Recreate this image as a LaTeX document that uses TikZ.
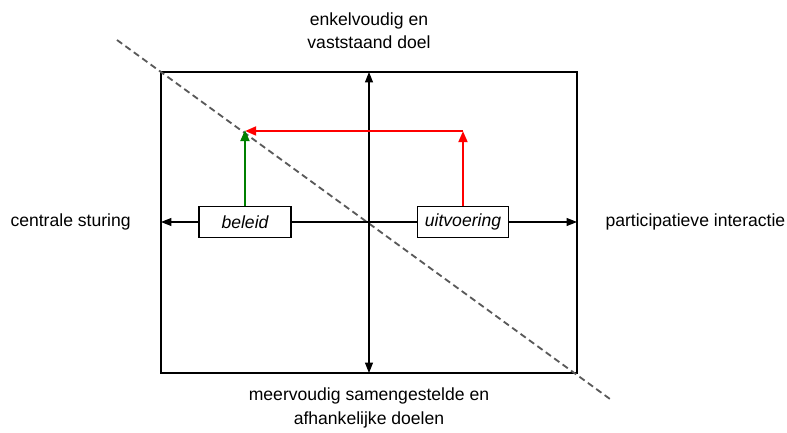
\documentclass[tikz,border=0pt]{standalone}
\usepackage{fontspec}
\setmainfont{Liberation Sans}
\usetikzlibrary{arrows.meta}
\definecolor{darkgreen}{RGB}{0,128,0}
\begin{document}
\begin{tikzpicture}[
  font=\fontsize{12.5}{16.5}\selectfont,
  tip/.style={-{Triangle[length=0.28cm,width=0.22cm]}},
  box/.style={draw,fill=white,line width=0.8pt,minimum width=2.3cm,minimum height=0.775cm,inner sep=0pt,font=\fontsize{12.5}{16.5}\selectfont\itshape},
  lbl/.style={align=center}]
\useasboundingbox (-9.225,-5.275) rectangle (10.45,5.55);

% Field
\draw[line width=0.8pt] (-5.2,-3.775) rectangle (5.2,3.75);
\coordinate (L) at (-5.2,0);
\coordinate (R) at (5.2,0);
\coordinate (T) at (0,3.75);
\coordinate (B) at (0,-3.775);

% Diagonal
\draw[dashed,dash pattern=on 0.16cm off 0.1cm,line width=1.3pt,black!65] (-6.3,4.55) -- (6.025,-4.425);

% Axes
\draw[line width=0.8pt,{Triangle[length=0.26cm,width=0.2cm]}-{Triangle[length=0.26cm,width=0.2cm]}] (L) -- (R);
\draw[line width=0.8pt,{Triangle[length=0.26cm,width=0.2cm]}-{Triangle[length=0.26cm,width=0.2cm]}] (B) -- (T);

% Boxes
\node[box] (beleid) at (-3.1,0) {beleid};
\node[box,minimum width=2.275cm] (uitvoering) at (2.35,0) {uitvoering};

% Arrows
\coordinate (corner) at (uitvoering.north |- 0,2.275);
\draw[tip,line width=1.8pt,red] (uitvoering.north) -- (corner);
\draw[tip,line width=1.8pt,red] (corner) -- (beleid.north |- corner);
\draw[tip,line width=1.8pt,darkgreen] (beleid.north) -- ++(0,1.9) coordinate (gtop);

% Axis labels
\node[lbl] (top) at (0,4.775) {enkelvoudig en\\vaststaand doel};
\node[lbl] (bottom) at (0,-4.65) {meervoudig samengestelde en\\afhankelijke doelen};
\node[lbl] (left) at (-7.46,0) {centrale sturing};
\node[lbl] (right) at (8.16,0) {participatieve interactie};
\end{tikzpicture}
\end{document}
